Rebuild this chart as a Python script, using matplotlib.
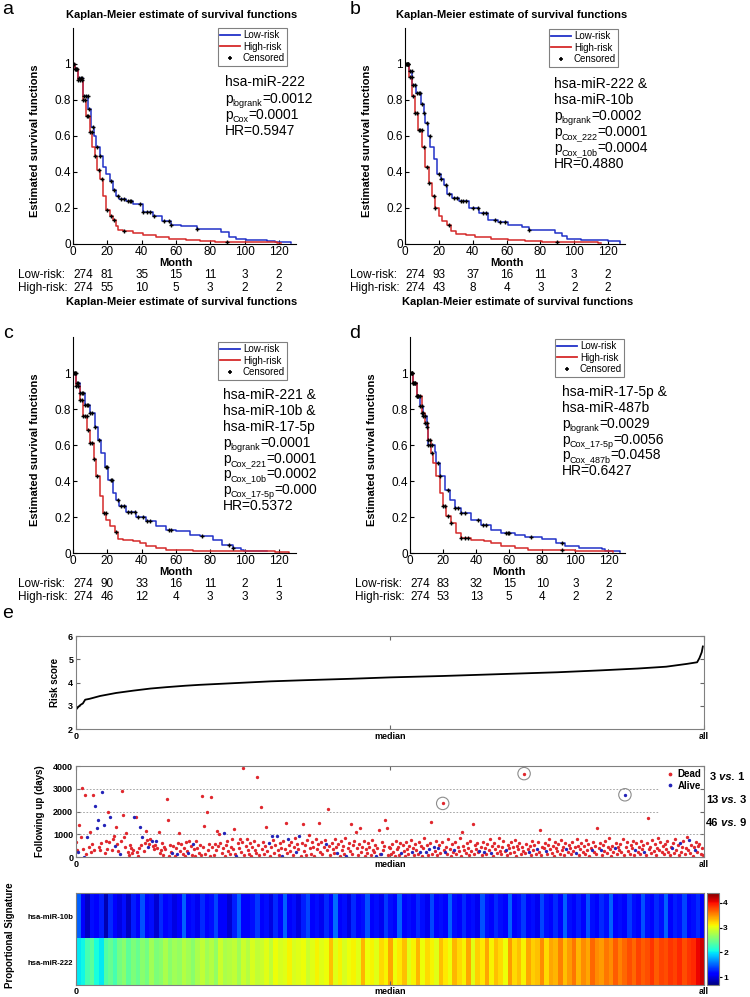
import numpy as np
import matplotlib
matplotlib.use('Agg')
import matplotlib.pyplot as plt
from matplotlib.lines import Line2D

plt.rcParams['font.family'] = ['Liberation Sans', 'DejaVu Sans']

# ---------------- Kaplan-Meier data ----------------
months = [0, 20, 40, 60, 80, 100, 120]

a_low_t = [0, 1, 3, 6, 8.7, 10.7, 12, 13.6, 15.5, 17.5, 19.4, 21.4, 23.3, 25.2, 27, 31, 35, 41, 46.6, 52, 57, 63, 72, 86, 91, 95, 101, 113, 118, 127]
a_low_s = [1, 0.97, 0.92, 0.82, 0.75, 0.65, 0.6, 0.54, 0.49, 0.43, 0.39, 0.35, 0.30, 0.265, 0.25, 0.237, 0.22, 0.18, 0.157, 0.126, 0.107, 0.098, 0.083, 0.067, 0.039, 0.028, 0.024, 0.019, 0.011, 0.004]
a_high_t = [0, 1, 3, 5.8, 7.8, 9.7, 11.3, 12.6, 14, 15.5, 17.5, 19.4, 21.4, 23.3, 25, 26, 29, 35, 41, 48.5, 56, 66, 74, 83, 93, 119, 121]
a_high_s = [1, 0.97, 0.91, 0.8, 0.71, 0.62, 0.54, 0.49, 0.41, 0.36, 0.265, 0.19, 0.154, 0.135, 0.1, 0.08, 0.07, 0.061, 0.052, 0.039, 0.028, 0.02, 0.015, 0.011, 0.009, 0.004, 0.004]
a_low_c = [0.5, 1.5, 2.5, 3.5, 4.5, 5.5, 6.5, 7.5, 8.5, 9.5, 11.5, 14, 16, 22, 24, 26, 28, 30, 32, 33, 34, 39, 41, 43, 45, 47, 53, 56, 57, 72]
a_high_c = [1, 2, 3, 4, 5, 6, 7, 8, 9, 10, 11, 13, 15, 17, 20, 22, 24, 30, 90]
a_table_low = [274, 81, 35, 15, 11, 3, 2]
a_table_high = [274, 55, 10, 5, 3, 2, 2]

b_low_t = [0, 2.4, 4.3, 6.3, 9.2, 11, 12, 13.7, 15, 17, 19, 21, 23, 25, 28, 32, 38, 43.5, 49, 55, 61, 69, 73, 88.6, 92.5, 96, 104, 120, 127]
b_low_s = [1, 0.96, 0.885, 0.84, 0.78, 0.73, 0.67, 0.6, 0.54, 0.47, 0.39, 0.36, 0.33, 0.28, 0.255, 0.237, 0.2, 0.172, 0.135, 0.12, 0.107, 0.093, 0.08, 0.061, 0.043, 0.028, 0.02, 0.015, 0.004]
b_high_t = [0, 2.4, 4.3, 5.9, 7.8, 10.2, 12, 14, 16, 18, 20, 22, 25, 27, 30, 36, 41.5, 51, 61, 71, 81, 90.6, 114, 116]
b_high_s = [1, 0.93, 0.82, 0.73, 0.635, 0.54, 0.43, 0.34, 0.265, 0.2, 0.154, 0.126, 0.107, 0.07, 0.056, 0.052, 0.039, 0.028, 0.02, 0.015, 0.013, 0.009, 0.004, 0.004]
b_low_c = [0.5, 1, 1.5, 2, 3, 4, 5, 6, 7, 8, 9, 10, 11.5, 13, 14.5, 20, 21.5, 24, 26, 29, 31, 33, 34, 36, 40, 43, 46, 48, 53, 56, 59, 73]
b_high_c = [1, 2, 3, 4, 5, 6, 7, 8, 9, 10, 11, 13, 14, 17, 18, 26, 90]
b_table_low = [274, 93, 37, 16, 11, 3, 2]
b_table_high = [274, 43, 8, 4, 3, 2, 2]

c_low_t = [0, 2, 3.9, 6.8, 9.7, 12.6, 14.6, 16.5, 18.4, 20.4, 23.3, 25.2, 27, 31, 37, 42.7, 48.5, 54, 60, 68, 74, 81.5, 87, 93, 98, 99.5, 113]
c_low_s = [1, 0.944, 0.89, 0.82, 0.78, 0.70, 0.63, 0.556, 0.48, 0.407, 0.333, 0.296, 0.26, 0.23, 0.2, 0.176, 0.148, 0.13, 0.12, 0.1, 0.093, 0.074, 0.046, 0.028, 0.018, 0.009, 0.009]
c_high_t = [0, 2, 3.9, 5.8, 8.2, 10, 12, 13.6, 15.5, 17.5, 19.4, 21.4, 24.3, 26.2, 29, 35, 39, 42.7, 48.5, 54, 70, 118, 126]
c_high_s = [1, 0.926, 0.85, 0.76, 0.685, 0.61, 0.52, 0.426, 0.315, 0.222, 0.185, 0.148, 0.115, 0.078, 0.07, 0.065, 0.056, 0.04, 0.028, 0.018, 0.009, 0.004, 0.002]
c_low_c = [0.5, 1, 1.5, 2.5, 3, 4, 5, 6, 7, 8, 9, 10, 11, 13, 15, 19, 20, 22, 23, 26, 28, 30, 32, 34, 36, 38, 41, 43, 45, 56, 57, 75, 91, 93]
c_high_c = [1, 2, 3, 4, 5, 6, 7, 8, 9, 10, 11, 12.5, 14, 18, 19, 25]
c_table_low = [274, 90, 33, 16, 11, 2, 1]
c_table_high = [274, 46, 12, 4, 3, 3, 3]

d_low_t = [0, 2, 4, 6, 8, 10, 11, 15, 16, 18, 21, 24, 27, 31, 37, 43, 49, 55, 63.5, 69.6, 80, 88, 94, 102, 116, 118, 127]
d_low_s = [1, 0.944, 0.87, 0.815, 0.76, 0.70, 0.6, 0.56, 0.5, 0.426, 0.352, 0.296, 0.25, 0.222, 0.185, 0.157, 0.13, 0.11, 0.1, 0.089, 0.078, 0.056, 0.037, 0.028, 0.024, 0.009, 0.004]
d_high_t = [0, 2, 4, 7, 9, 11, 12.7, 14, 16, 18, 20, 22, 25, 28, 31, 37, 45, 49, 55, 63.5, 71.6, 96, 100, 123]
d_high_s = [1, 0.944, 0.87, 0.78, 0.72, 0.63, 0.556, 0.5, 0.426, 0.333, 0.26, 0.204, 0.167, 0.11, 0.083, 0.074, 0.065, 0.056, 0.037, 0.028, 0.018, 0.015, 0.009, 0.004]
d_low_c = [0.5, 1, 1.5, 2, 2.5, 3, 4, 5, 6, 7, 8, 9, 10, 11, 12, 13, 17, 18, 23, 27, 29, 31, 33, 41, 44, 46, 58, 59, 60, 73, 92]
d_high_c = [1, 2, 3, 4, 5, 6, 7, 8, 9, 10, 11, 12, 13, 20, 21, 23, 25, 31, 33, 35, 92]
d_table_low = [274, 83, 32, 15, 10, 3, 2]
d_table_high = [274, 53, 13, 5, 4, 2, 2]

a_lines = ['hsa-miR-222', ('logrank', '=0.0012'), ('Cox', '=0.0001'), 'HR=0.5947']
b_lines = ['hsa-miR-222 &', 'hsa-miR-10b', ('logrank', '=0.0002'), ('Cox_222', '=0.0001'),
           ('Cox_10b', '=0.0004'), 'HR=0.4880']
c_lines = ['hsa-miR-221 &', 'hsa-miR-10b &', 'hsa-miR-17-5p', ('logrank', '=0.0001'),
           ('Cox_221', '=0.0001'), ('Cox_10b', '=0.0002'), ('Cox_17-5p', '=0.000'), 'HR=0.5372']
d_lines = ['hsa-miR-17-5p &', 'hsa-miR-487b', ('logrank', '=0.0029'), ('Cox_17-5p', '=0.0056'),
           ('Cox_487b', '=0.0458'), 'HR=0.6427']

# ---------------- panel e data ----------------
risk_idx = [0, 2, 4, 6, 8, 12, 21, 35, 50, 65, 79, 95, 108, 137, 170, 200, 240, 274, 320, 370, 420, 457, 490, 515, 533, 542, 544, 546, 547]
risk_val = [2.83, 2.95, 3.04, 3.1, 3.26, 3.3, 3.42, 3.55, 3.65, 3.74, 3.8, 3.86, 3.9, 3.97, 4.05, 4.1, 4.16, 4.22, 4.28, 4.36, 4.44, 4.52, 4.6, 4.68, 4.8, 4.87, 5.05, 5.3, 5.55]

days = [
    650, 300, 218, 1425, 880, 3025, 330, 20, 2735, 120, 870, 420, 1080, 240, 560, 2735, 310, 2225, 1280, 1630,
    430, 290, 620, 2840, 1400, 180, 720, 350, 1965, 650, 1776, 290, 800, 940, 470, 1325, 550, 250, 130, 720,
    2897, 1835, 880, 450, 1050, 230, 90, 520, 380, 160, 300, 1776, 1776, 210, 60, 380, 1325, 520, 880, 260,
    610, 1150, 730, 420, 580, 770, 690, 470, 330, 520, 720, 400, 1110, 160, 290, 600, 90, 450, 340, 2550,
    1646, 50, 510, 210, 180, 470, 30, 390, 110, 620, 1070, 260, 560, 140, 400, 30, 640, 250, 160, 720,
    480, 90, 560, 330, 40, 720, 410, 160, 520, 80, 2695, 440, 1370, 120, 1980, 300, 560, 30, 2650, 420,
    80, 560, 290, 1130, 470, 1020, 620, 170, 380, 1040, 60, 510, 720, 260, 150, 450, 780, 340, 1230, 110,
    40, 600, 380, 800, 220, 660, 3900, 90, 480, 770, 320, 140, 600, 60, 440, 720, 290, 180, 3535, 520,
    70, 2210, 360, 650, 120, 480, 1340, 250, 600, 30, 430, 945, 760, 180, 540, 945, 300, 80, 620, 410,
    50, 720, 340, 1480, 160, 770, 510, 260, 680, 100, 430, 820, 200, 560, 330, 945, 40, 610, 1455, 270,
    520, 90, 740, 960, 380, 150, 640, 460, 30, 800, 350, 560, 1500, 240, 660, 130, 430, 760, 550, 290,
    2110, 470, 90, 620, 340, 180, 780, 420, 160, 560, 60, 690, 300, 480, 120, 820, 40, 390, 610, 250,
    1455, 140, 520, 720, 1105, 380, 80, 560, 1280, 230, 460, 700, 30, 350, 170, 610, 440, 90, 760, 320,
    200, 540, 60, 400, 1190, 130, 140, 680, 300, 500, 1640, 1265, 90, 420,
    380, 120, 560, 240, 60, 700, 330, 450, 90, 610, 180, 520, 270, 40, 640, 350, 150, 480, 760, 220,
    410, 90, 560, 300, 130, 680, 240, 470, 60, 380, 820, 200, 540, 90, 330, 620, 1555, 150, 440, 260,
    720, 80, 380, 510, 190, 640, 2355, 290, 230, 460, 110, 780, 350, 40, 590, 200, 300, 670, 120, 430,
    250, 830, 60, 1120, 480, 310, 170, 600, 390, 80, 720, 260, 1455, 140, 520, 340, 610, 210, 280, 450,
    90, 680, 230, 400, 150, 560, 300, 770, 160, 470, 50, 620, 340, 190, 500, 850, 280, 120, 430, 700,
    260, 300, 80, 540, 380, 160, 650, 440, 210, 760, 30, 500, 330, 600, 140, 420, 250, 3665, 180, 560,
    360, 200, 480, 90, 700, 310, 520, 150, 330, 640, 230, 1165, 70, 450, 380, 600, 260, 120, 520, 800,
    340, 190, 470, 60, 680, 410, 250, 560, 140, 730, 300, 450, 80, 620, 350, 200, 540, 380, 120, 670,
    260, 440, 180, 800, 500, 90, 350, 620, 210, 470, 150, 760, 320, 560, 40, 400, 300, 680, 230, 500,
    130, 1265, 380, 620, 300, 80, 540, 260, 710, 180, 430, 850, 350, 60, 500, 240, 380, 620, 140, 450,
    300, 560, 200, 770, 90, 2735, 420, 640, 260, 150, 510, 380, 700, 80, 320, 600, 230, 460, 140, 690,
    370, 520, 200, 80, 620, 1715, 330, 450, 180, 740, 260, 560, 100, 410, 830, 300, 650, 200, 480, 120,
    560, 350, 700, 240, 90, 460, 380, 620, 160, 800, 300, 510, 80, 600, 230, 450, 700, 140, 380, 860,
    290, 760, 180, 520, 60, 440, 300, 650, 220, 480, 560, 130, 380, 90,
]
alive_idx = [2, 7, 10, 17, 18, 19, 23, 24, 30, 34, 38, 51, 56, 58, 63, 66, 70, 84, 88, 98, 102, 129, 140,
             168, 171, 175, 180, 185, 192, 195, 218, 228, 236, 262, 266, 284, 293, 300, 305, 308, 312, 316,
             322, 330, 352, 356, 362, 375, 395, 402, 410, 428, 436, 450, 458, 470, 479, 488, 496, 520, 527,
             535, 540]
circled_idx = [320, 391, 479]
ratio_text = [('3', '1'), ('13', '3'), ('46', '9')]

mir10b = [
    1.5, 1.1, 0.9, 1.2, 1.1, 1.25, 0.85, 1.3, 1.15, 1.0, 1.2, 0.9, 1.25, 1.1, 1.45, 1.15, 1.2, 0.95, 1.3, 1.15,
    1.2, 1.0, 1.15, 1.5, 1.1, 1.2, 1.05, 1.3, 1.15, 1.2, 1.4, 1.1, 1.15, 0.95, 1.25, 1.5, 1.15, 1.1, 1.2, 1.35,
    1.1, 1.2, 1.0, 1.3, 1.15, 1.5, 1.1, 1.2, 1.0, 1.25, 1.4, 1.1, 1.2, 1.05, 1.3, 1.15, 1.55, 1.1, 1.2, 1.0,
    1.3, 1.15, 1.2, 1.45, 1.1, 1.2, 1.05, 1.35, 1.2, 1.1, 1.5, 1.15, 1.2, 1.1, 1.3, 1.2, 1.05, 1.4, 1.15, 1.2,
    1.1, 1.5, 1.2, 1.1, 1.3, 1.15, 1.2, 1.05, 1.45, 1.2, 1.1, 1.3, 1.2, 1.15, 1.5, 1.1, 1.2, 1.35, 1.1, 1.2,
    1.05, 1.4, 1.2, 1.15, 1.3, 1.1, 1.5, 1.2, 1.1, 1.25, 1.15, 1.45, 1.2, 1.1, 1.3, 1.2, 1.5, 1.15, 1.2, 1.1,
    1.35, 1.2, 1.1, 1.45, 1.2, 1.15, 1.3, 1.2, 1.5, 1.1, 1.25, 1.2, 1.4, 1.15, 1.2, 1.3, 1.1,
]
mir222 = [
    2.0, 2.05, 2.3, 2.4, 2.1, 2.0, 2.35, 2.45, 2.3, 2.5, 2.6, 2.4, 2.55, 2.45, 2.6, 2.5, 2.7, 2.55, 2.6, 2.75,
    2.6, 2.7, 2.65, 2.8, 2.7, 2.6, 2.75, 2.85, 2.7, 2.8, 2.65, 2.9, 2.75, 2.8, 2.85, 2.7, 2.9, 2.8, 2.95, 2.85,
    2.9, 3.0, 2.85, 3.05, 2.95, 3.0, 3.1, 2.95, 3.0, 3.05, 2.9, 3.0, 3.1, 3.0, 3.05, 3.3, 3.0, 3.1, 2.95, 3.05,
    3.1, 3.0, 3.35, 3.05, 3.1, 3.0, 3.2, 3.1, 3.4, 3.05, 3.15, 3.3, 3.0, 3.1, 3.35, 3.05, 3.2, 3.1, 3.0, 3.3,
    3.15, 3.05, 3.35, 3.2, 3.1, 3.4, 3.0, 3.25, 3.15, 3.4, 3.1, 3.3, 3.2, 3.05, 3.45, 3.2, 3.3, 3.1, 3.4, 3.25,
    3.3, 3.5, 3.2, 3.4, 3.35, 3.55, 3.3, 3.45, 3.6, 3.35, 3.5, 3.4, 3.65, 3.5, 3.45, 3.6, 3.5, 3.7, 3.55, 3.65,
    3.75, 3.65, 3.8, 3.7, 3.75, 3.85, 3.7, 3.8, 3.75, 3.85, 3.8, 3.9, 3.75, 3.85, 3.9, 4.05, 4.15,
]
heat_rows = ['hsa-miR-10b', 'hsa-miR-222']
n_patients = 548

BLUE = '#2231c8'
RED = '#d52a2a'
DEAD = '#e0282e'
ALIVE = '#2424b8'

W, H = 750, 997
fig = plt.figure(figsize=(W / 100, H / 100), dpi=100)
renderer = fig.canvas.get_renderer()


def box(x, y, w, h):
    return [x / W, 1 - (y + h) / H, w / W, h / H]


def ftext(x, y, s, **kw):
    return fig.text(x / W, 1 - y / H, s, **kw)


def rich(x, y, pieces):
    # pieces of text put one after the other on a common baseline
    for s, size, dy, kw in pieces:
        t = ftext(x, y + dy, s, fontsize=size, va='baseline', ha='left', **kw)
        x += t.get_window_extent(renderer).width
    return x


def km_panel(left, top, width, low, high, table_low, table_high, leg_xy, tx, ty, lines,
             title_xy, letter, letter_xy):
    height = 216
    ax = fig.add_axes(box(left, top, width, height))
    for (t, s, c), col in zip((low, high), (BLUE, RED)):
        ax.step(t, s, where='post', color=col, lw=1.1)
    for (t, s, c) in (low, high):
        idx = np.searchsorted(t, c, side='right') - 1
        ax.plot(c, np.array(s)[idx], '+', color='k', ms=3.2, mew=1.0, ls='none')
    ax.set_xlim(0, 130)
    ax.set_ylim(0, 1.2)
    ax.set_xticks(months)
    ax.set_yticks([0, 0.2, 0.4, 0.6, 0.8, 1])
    ax.set_yticklabels(['0', '0.2', '0.4', '0.6', '0.8', '1'])
    for sp in ('top', 'right'):
        ax.spines[sp].set_visible(False)
    ax.tick_params(direction='in', length=3, labelsize=8.5, pad=1.5)
    ax.set_ylabel('Estimated survival functions', fontsize=8, fontweight='bold')
    ax.yaxis.set_label_coords(-33 / width, 0.48)
    tr = ax.get_xaxis_transform()
    ax.text(60, -19 / height, 'Month', transform=tr, ha='center', va='center',
            fontsize=8, fontweight='bold')
    for row, (name, vals) in enumerate((('Low-risk:', table_low), ('High-risk:', table_high))):
        yy = -(31 + 13 * row) / height
        ax.text(-55 / width, yy, name, transform=ax.transAxes, ha='left', va='center', fontsize=8.5)
        for m, v in zip(months, vals):
            ax.text(m, yy, str(v), transform=tr, ha='left' if m == 0 else 'center',
                    va='center', fontsize=8.5)
    handles = [Line2D([], [], color=BLUE, lw=1.3), Line2D([], [], color=RED, lw=1.3),
               Line2D([], [], color='k', marker='+', ms=3.5, mew=1.2, ls='none')]
    leg = ax.legend(handles, ['Low-risk', 'High-risk', 'Censored'], loc='upper left',
                    bbox_to_anchor=(leg_xy[0] / W, 1 - leg_xy[1] / H), bbox_transform=fig.transFigure,
                    fontsize=7, handlelength=2.0, handletextpad=0.3, borderpad=0.25,
                    labelspacing=0.15, borderaxespad=0, fancybox=False, framealpha=1)
    leg.get_frame().set_edgecolor('0.5')
    leg.get_frame().set_linewidth(0.8)
    for ln, yy in zip(lines, ty):
        if isinstance(ln, tuple):
            rich(tx, yy, [('p', 10, 0, {}), (ln[0], 6.5, 3, {}), (ln[1], 10, 0, {})])
        else:
            ftext(tx, yy, ln, fontsize=10, va='baseline', ha='left')
    ftext(title_xy[0], title_xy[1], 'Kaplan-Meier estimate of survival functions',
          fontsize=8, fontweight='bold', ha='center', va='center')
    ftext(letter_xy[0], letter_xy[1], letter, fontsize=14, ha='center', va='center')
    return ax


km_panel(73, 28, 223, (a_low_t, a_low_s, a_low_c), (a_high_t, a_high_s, a_high_c),
         a_table_low, a_table_high, (218, 28), 225, [86, 103, 119, 135], a_lines,
         (182, 15), 'a', (8, 10))
km_panel(405, 28, 220, (b_low_t, b_low_s, b_low_c), (b_high_t, b_high_s, b_high_c),
         b_table_low, b_table_high, (549, 29), 554, [88, 104, 120, 136, 152, 168], b_lines,
         (512, 15), 'b', (355, 10))
km_panel(73, 337, 223, (c_low_t, c_low_s, c_low_c), (c_high_t, c_high_s, c_high_c),
         c_table_low, c_table_high, (218, 342), 223, [399, 415, 431, 447, 463, 478, 494, 510], c_lines,
         (182, 302), 'c', (8, 333))
km_panel(410, 337, 215, (d_low_t, d_low_s, d_low_c), (d_high_t, d_high_s, d_high_c),
         d_table_low, d_table_high, (555, 339), 562, [396, 412, 428, 444, 459, 475], d_lines,
         (518, 302), 'd', (355, 333))

ftext(8, 613, 'e', fontsize=14, ha='center', va='center')

xt = [0, n_patients / 2, n_patients]
xtl = ['0', 'median', 'all']


def style_e(ax):
    for sp in ax.spines.values():
        sp.set_color('0.5')
    ax.tick_params(direction='in', length=3, labelsize=6.5, pad=2, top=True, right=True, color='0.4')
    for lab in ax.get_xticklabels() + ax.get_yticklabels():
        lab.set_fontweight('bold')


# risk score
ax_r = fig.add_axes(box(76, 636, 628, 93))
ax_r.plot(risk_idx, risk_val, color='k', lw=1.3)
ax_r.set_xlim(0, n_patients)
ax_r.set_ylim(2, 6)
ax_r.set_yticks([2, 3, 4, 5, 6])
ax_r.set_xticks(xt)
ax_r.set_xticklabels(xtl)
style_e(ax_r)
ax_r.set_ylabel('Risk score', fontsize=7, fontweight='bold')
ax_r.yaxis.set_label_coords(-16 / 628, 0.5)

# follow-up
ax_f = fig.add_axes(box(76, 766, 628, 91))
days = np.array(days)
idx = np.arange(len(days))
alive = np.isin(idx, alive_idx)
for lvl, xmax in ((1000, 1.0), (2000, 0.928), (3000, 0.928)):
    ax_f.axhline(lvl, xmax=xmax, color='0.6', ls=(0, (2, 2)), lw=0.6)
ax_f.plot(idx[~alive], days[~alive], '.', color=DEAD, ms=2.8, ls='none', label='Dead')
ax_f.plot(idx[alive], days[alive], '.', color=ALIVE, ms=2.8, ls='none', label='Alive')
ax_f.scatter(circled_idx, days[circled_idx], s=80, facecolors='none', edgecolors='0.55', lw=0.8)
ax_f.set_xlim(0, n_patients)
ax_f.set_ylim(0, 4000)
ax_f.set_yticks([0, 1000, 2000, 3000, 4000])
ax_f.set_xticks(xt)
ax_f.set_xticklabels(xtl)
style_e(ax_f)
ax_f.set_ylabel('Following up (days)', fontsize=7, fontweight='bold')
ax_f.yaxis.set_label_coords(-31 / 628, 0.5)
ax_f.legend(loc='upper right', bbox_to_anchor=(703 / W, 1 - 767 / H), bbox_transform=fig.transFigure,
            frameon=False, prop={'size': 7, 'weight': 'bold'}, handlelength=0.8, handletextpad=0.4,
            borderpad=0.2, labelspacing=0.2, borderaxespad=0, markerscale=1.2)
for (lo, hi), yy in zip(ratio_text, [780, 803, 826]):
    rich(710 if len(lo) == 1 else 706, yy,
         [(lo, 8, 0, {'fontweight': 'bold'}), (' vs.', 8, 0, {'fontweight': 'bold', 'style': 'italic'}),
          (' ' + hi, 8, 0, {'fontweight': 'bold'})])

# heatmap
ax_h = fig.add_axes(box(76, 893, 628, 92))
im = ax_h.imshow(np.array([mir10b, mir222]), aspect='auto', cmap='jet', vmin=0.68, vmax=4.4,
                 extent=(0, n_patients, 2, 0), interpolation='nearest')
ax_h.set_xticks(xt)
ax_h.set_xticklabels(xtl)
ax_h.set_yticks([0.5, 1.5])
ax_h.set_yticklabels(heat_rows)
style_e(ax_h)
ax_h.tick_params(axis='y', length=0, labelsize=5.5)
ax_h.tick_params(axis='x', top=False, pad=1.5)
ftext(10, 935, 'Proportional Signature', rotation=90, fontsize=7, fontweight='bold',
      ha='center', va='center')
cax = fig.add_axes(box(707, 893, 12, 92))
cb = fig.colorbar(im, cax=cax, ticks=[1, 2, 3, 4])
cb.outline.set_edgecolor('0.5')
cax.tick_params(labelsize=6, length=2, pad=1)
for lab in cax.get_yticklabels():
    lab.set_fontweight('bold')

fig.savefig('out.png', dpi=100)
